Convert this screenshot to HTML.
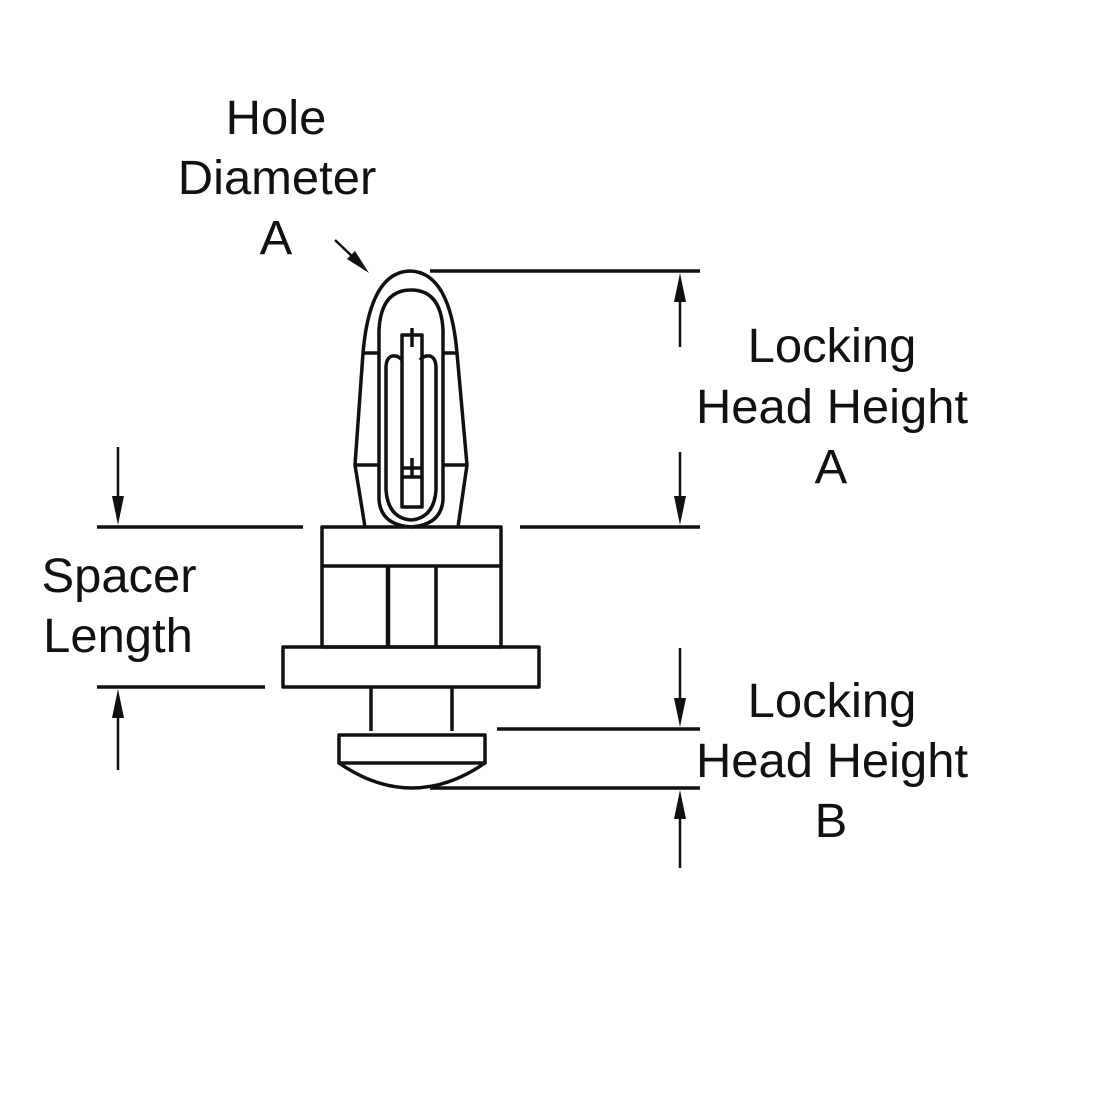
<!DOCTYPE html>
<html><head><style>
html,body{margin:0;padding:0;background:#fff;}
svg{display:block;}
text{font-family:"Liberation Sans",Arial,sans-serif;font-size:48px;fill:#111;}
</style></head><body>
<svg width="1100" height="1100" viewBox="0 0 1100 1100" xmlns="http://www.w3.org/2000/svg">
<g stroke="#111" stroke-width="3.5" fill="none" stroke-linejoin="round">
<!-- outer head -->
<path d="M365,527 L355,465 L363,353 Q370,272 410,271 Q450,272 457,353 L467,465 L458,527"/>
<!-- inner loop -->
<path d="M379,500 L379,330 Q381,290 411,290 Q441,290 443,330 L443,500 Q441,525 411,527 Q381,525 379,500 Z"/>
<line x1="363" y1="353" x2="379" y2="353"/><line x1="443" y1="353" x2="457" y2="353"/>
<line x1="355" y1="465" x2="379" y2="465"/><line x1="443" y1="465" x2="467" y2="465"/>
<!-- tongue -->
<path d="M402,360 Q398,355 392,356 Q386,358 386,368 L386,490 Q388,518 411,520 Q434,518 436,490 L436,368 Q436,358 430,356 Q424,355 420,360"/>
<rect x="402" y="335" width="20" height="172"/>
<line x1="412" y1="328" x2="412" y2="347"/>
<line x1="412" y1="458" x2="412" y2="478"/>
<line x1="402" y1="468" x2="422" y2="468"/>
<line x1="402" y1="477" x2="422" y2="477"/>
<!-- body -->
<rect x="322" y="527" width="179" height="120"/>
<line x1="322" y1="566" x2="501" y2="566"/>
<line x1="388" y1="566" x2="388" y2="647" stroke-width="4.5"/>
<line x1="436" y1="566" x2="436" y2="647"/>
<rect x="283" y="647" width="256" height="40"/>
<line x1="371" y1="687" x2="371" y2="731"/>
<line x1="452" y1="687" x2="452" y2="731"/>
<rect x="339" y="735" width="146" height="28"/>
<path d="M339,763 Q375,788 412,788 Q449,788 485,763"/>
<!-- dimension lines -->
<line x1="430" y1="271" x2="700" y2="271"/>
<line x1="520" y1="527" x2="700" y2="527"/>
<line x1="97" y1="527" x2="303" y2="527"/>
<line x1="97" y1="687" x2="265" y2="687"/>
<line x1="497" y1="729" x2="700" y2="729"/>
<line x1="430" y1="788" x2="700" y2="788"/>
<g stroke-width="2.5">
<line x1="680" y1="290" x2="680" y2="347"/>
<line x1="680" y1="452" x2="680" y2="510"/>
<line x1="118" y1="447" x2="118" y2="510"/>
<line x1="118" y1="705" x2="118" y2="770"/>
<line x1="680" y1="648" x2="680" y2="712"/>
<line x1="680" y1="805" x2="680" y2="868"/>
<line x1="335" y1="240" x2="355" y2="259"/>
</g>
</g>
<g fill="#111">
<polygon points="680,273 674,302 686,302"/>
<polygon points="680,525 674,496 686,496"/>
<polygon points="118,525 112,496 124,496"/>
<polygon points="118,689 112,718 124,718"/>
<polygon points="680,727 674,698 686,698"/>
<polygon points="680,790 674,819 686,819"/>
<polygon points="369,273 347,259 355,251"/>
</g>
<g text-anchor="middle">
<text transform="translate(276,134) scale(1.02,1)">Hole</text>
<text transform="translate(277,194) scale(1.02,1)">Diameter</text>
<text transform="translate(276,254) scale(1.02,1)">A</text>
<text transform="translate(832,362) scale(1.02,1)">Locking</text>
<text transform="translate(832,423) scale(1.02,1)">Head Height</text>
<text transform="translate(831,483) scale(1.02,1)">A</text>
<text transform="translate(119,592) scale(1.02,1)">Spacer</text>
<text transform="translate(118,652) scale(1.02,1)">Length</text>
<text transform="translate(832,717) scale(1.02,1)">Locking</text>
<text transform="translate(832,777) scale(1.02,1)">Head Height</text>
<text transform="translate(831,837) scale(1.02,1)">B</text>
</g>
</svg>
</body></html>
